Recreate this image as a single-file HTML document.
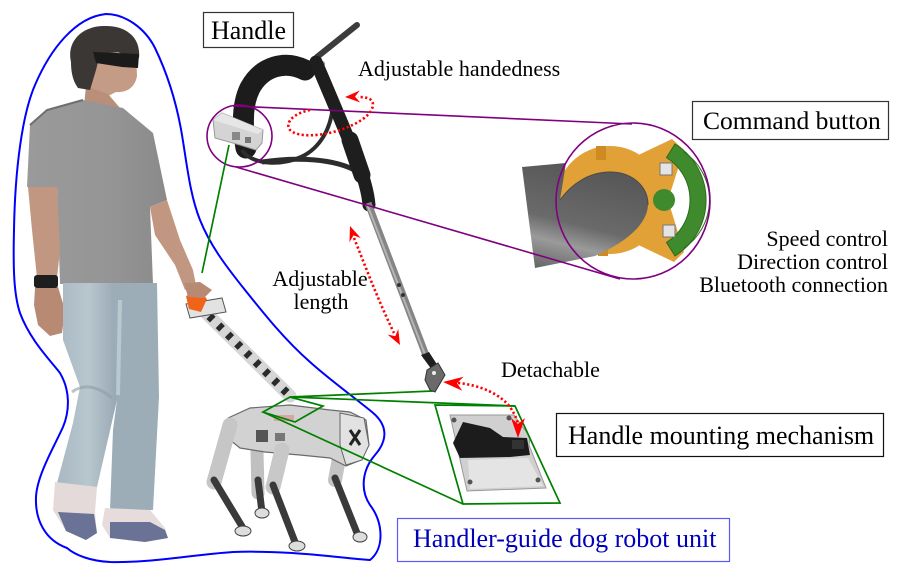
<!DOCTYPE html>
<html>
<head>
<meta charset="utf-8">
<style>
html,body{margin:0;padding:0;background:#fff;width:904px;height:573px;overflow:hidden}
svg{display:block}
text{font-family:"Liberation Serif","Times New Roman",serif;}
</style>
</head>
<body>
<svg width="904" height="573" viewBox="0 0 904 573" xmlns="http://www.w3.org/2000/svg">
<defs>
<linearGradient id="tube" x1="0" y1="1" x2="0.3" y2="0">
<stop offset="0" stop-color="#5e5e5e"/>
<stop offset="0.3" stop-color="#9a9a9a"/>
<stop offset="0.5" stop-color="#6a6a6a"/>
<stop offset="1" stop-color="#585858"/>
</linearGradient>
<linearGradient id="jeans" x1="0" y1="0" x2="1" y2="0">
<stop offset="0" stop-color="#a9b8c2"/>
<stop offset="0.5" stop-color="#b8c6ce"/>
<stop offset="1" stop-color="#95a5b1"/>
</linearGradient>
<linearGradient id="shirt" x1="0" y1="0" x2="1" y2="0">
<stop offset="0" stop-color="#9a9a9a"/>
<stop offset="0.6" stop-color="#959595"/>
<stop offset="1" stop-color="#8a8a8a"/>
</linearGradient>
</defs>
<rect width="904" height="573" fill="#fff"/>

<!-- PERSON -->
<path d="M86,52 L136,52 L137,76 C135,88 126,93 116,92 L108,96 L98,100 L86,94 Z" fill="#c49c86"/>
<polygon points="86,86 108,94 120,108 84,106" fill="#b98f79"/>
<path d="M71,62 C66,40 84,25 106,26 C127,26 141,38 139,58 L136,60 L118,52 L100,54 L96,70 L90,90 L78,88 C72,80 71,70 71,62 Z" fill="#3a3735"/>
<polygon points="93,52 139,54 138,68 122,67 96,63" fill="#1b1b1b"/>
<polygon points="83,100 123,108 153,133 167,200 150,207 153,284 60,284 57,187 27,187 30,125 47,110" fill="url(#shirt)"/>
<path d="M30,125 L47,110 L83,100" stroke="#6e6e6e" stroke-width="2" fill="none"/>
<polygon points="28,187 57,187 60,250 57,278 37,278 32,230" fill="#c29782"/>
<polygon points="35,288 58,287 65,310 62,333 50,336 38,325 34,305" fill="#b88a74"/>
<rect x="34" y="275" width="24" height="13" rx="3" fill="#1e1e1e"/>
<polygon points="150,207 167,200 180,240 193,270 196,285 185,290 175,265 155,235" fill="#c29782"/>
<polygon points="63,283 120,283 117,400 97,487 57,483 73,423 80,387 63,340" fill="url(#jeans)"/>
<polygon points="112,283 157,283 159,397 153,510 110,510 113,430 117,400" fill="#9cadb8"/>
<path d="M72,392 C85,382 100,388 112,398" stroke="#8d9ea9" stroke-width="3" fill="none" opacity="0.6"/>
<path d="M120,300 L118,395" stroke="#c8d3da" stroke-width="4" fill="none" opacity="0.7"/>
<polygon points="55,482 97,487 95,512 97,533 86,540 66,531 53,510" fill="#e4dada"/>
<polygon points="58,512 94,514 97,533 86,540 66,531" fill="#6a7296"/>
<polygon points="105,508 150,510 165,528 168,538 145,542 110,538 102,525" fill="#e6dcdc"/>
<polygon points="110,522 150,522 165,530 168,538 145,542 110,538" fill="#6a7296"/>

<!-- LEASH HANDLE -->
<path d="M198,305 L290,396" stroke="#d6d6d6" stroke-width="13" stroke-linecap="round"/>
<path d="M200,307 L288,394" stroke="#2a2a2a" stroke-width="8" stroke-dasharray="5,8"/>
<polygon points="186,304 222,298 226,312 190,318" fill="#e2e2e2" stroke="#555" stroke-width="1"/>
<polygon points="186,296 199,290 207,299 201,312 189,309" fill="#f06419"/>
<polygon points="184,283 200,282 212,290 204,298 188,297" fill="#b88a74"/>

<!-- DOG ROBOT -->
<path d="M257,452 L258,493" stroke="#c0c0c0" stroke-width="13" stroke-linecap="round"/>
<path d="M258,480 L262,512" stroke="#3a3a3a" stroke-width="7" stroke-linecap="round"/>
<ellipse cx="262" cy="513" rx="7" ry="5" fill="#ddd" stroke="#444"/>
<path d="M343,437 L335,480" stroke="#c4c4c4" stroke-width="14" stroke-linecap="round"/>
<path d="M335,478 L357,533" stroke="#3a3a3a" stroke-width="7" stroke-linecap="round"/>
<ellipse cx="360" cy="537" rx="7" ry="5" fill="#ddd" stroke="#444"/>
<polygon points="228,418 250,408 290,405 330,410 350,412 366,420 369,445 361,460 346,466 330,458 300,455 265,452 240,448 230,440" fill="#d2d2d2" stroke="#6a6a6a" stroke-width="1.2"/>
<polygon points="340,413 364,418 369,445 362,460 346,465 340,445" fill="#e2e2e2" stroke="#666" stroke-width="1"/>
<path d="M350,430 L360,445 M360,430 L350,445" stroke="#222" stroke-width="3"/>
<rect x="256" y="430" width="12" height="12" fill="#555"/>
<rect x="275" y="433" width="10" height="8" fill="#777"/>
<rect x="274" y="415" width="20" height="6" fill="#d88" opacity="0.6"/>
<path d="M230,425 L214,482" stroke="#c6c6c6" stroke-width="15" stroke-linecap="round"/>
<path d="M214,480 L243,528" stroke="#3a3a3a" stroke-width="7" stroke-linecap="round"/>
<ellipse cx="243" cy="531" rx="8" ry="5" fill="#ddd" stroke="#444"/>
<path d="M282,450 L273,487" stroke="#c8c8c8" stroke-width="15" stroke-linecap="round"/>
<path d="M273,485 L295,542" stroke="#3a3a3a" stroke-width="7" stroke-linecap="round"/>
<ellipse cx="297" cy="546" rx="8" ry="5" fill="#ddd" stroke="#444"/>

<!-- BIG HANDLE -->
<path d="M357,25 L317,57 L322,68" stroke="#3c3c3c" stroke-width="6" stroke-linecap="round" stroke-linejoin="round" fill="none"/>
<circle cx="322" cy="64" r="3" fill="#888"/>
<path d="M305,70 C285,60 262,66 250,88 C242,104 242,125 246,148" stroke="#1c1c1c" stroke-width="21" stroke-linecap="round" fill="none"/>
<path d="M242,150 C252,166 285,166 305,155 C322,145 333,125 333,100" stroke="#2c2c2c" stroke-width="4" fill="none"/>
<path d="M262,162 C295,157 335,158 358,172" stroke="#2c2c2c" stroke-width="5" fill="none"/>
<path d="M316,62 C330,95 345,130 357,160 C364,178 368,192 369,205" stroke="#1e1e1e" stroke-width="13" stroke-linecap="round" fill="none"/>
<path d="M350,140 L362,175" stroke="#1e1e1e" stroke-width="17" stroke-linecap="round"/>
<path d="M368,203 L427,358" stroke="#858585" stroke-width="7"/>
<path d="M367,204 L426,357" stroke="#b5b5b5" stroke-width="2"/>
<circle cx="399" cy="285" r="2" fill="#333"/>
<circle cx="403" cy="295" r="2" fill="#333"/>
<polygon points="421,355 429,352 438,366 432,370" fill="#1e1e1e"/>
<polygon points="427,370 438,363 445,375 435,392 430,390 425,380" fill="#6a6a6a" stroke="#333" stroke-width="1"/>
<circle cx="434" cy="373" r="2" fill="#eee"/>
<polygon points="213,120 222,113 263,130 262,143 256,150 240,145 215,138" fill="#d4d4d4" stroke="#9a9a9a" stroke-width="1"/>
<polygon points="213,120 222,113 263,130 258,134" fill="#e6e6e6"/>
<rect x="232" y="132" width="8" height="8" fill="#888"/>
<rect x="245" y="137" width="6" height="6" fill="#777"/>

<!-- COMMAND BUTTON CAD -->
<circle cx="610" cy="200" r="54" fill="#e2a136"/>
<polygon points="628,160 672,139 684,150 668,200 684,252 674,262 628,240" fill="#e2a136"/>
<rect x="596" y="146" width="10" height="14" fill="#d08a22"/>
<rect x="598" y="242" width="10" height="14" fill="#d08a22"/>
<path d="M675,144 A66,66 0 0 1 675,256 L666.5,242.4 A50,50 0 0 0 666.5,157.6 Z" fill="#3f8a2c" stroke="#2d6b1c" stroke-width="1"/>
<path d="M684,152 A58,58 0 0 1 684,248" stroke="#2d6b1c" stroke-width="1" fill="none"/>
<circle cx="664" cy="200" r="11" fill="#3f8a2c"/>
<rect x="660" y="163" width="12" height="12" fill="#e4e4e4" stroke="#777" stroke-width="1"/>
<rect x="663" y="225" width="12" height="12" fill="#e4e4e4" stroke="#777" stroke-width="1"/>
<path d="M522,167 L566,163 L560,200 C572,183 590,172 610,172 C632,172 648,186 648,205 C647,225 625,243 595,256 L535,268 Z" fill="url(#tube)"/>
<path d="M560,200 C572,183 590,172 610,172 C632,172 648,186 648,205" stroke="#4a4a4a" stroke-width="1" fill="none"/>

<!-- MOUNT MECHANISM -->
<polygon points="450,415 514,415 530,437 529,445 546,488 467,491" fill="#d0d0d0" stroke="#999" stroke-width="1"/>
<polygon points="468,460 528,458 543,486 470,489" fill="#e4e4e4"/>
<polygon points="463,422 490,428 503,437 527,438 530,455 510,457 460,458 453,443" fill="#1c1c1c"/>
<rect x="512" y="440" width="12" height="9" fill="#333"/>
<circle cx="454" cy="420" r="2.5" fill="#555"/>
<circle cx="470" cy="482" r="2.5" fill="#555"/>
<circle cx="538" cy="480" r="2.5" fill="#555"/>
<circle cx="509" cy="418" r="2.5" fill="#555"/>

<!-- BLUE OUTLINE -->
<path d="M106,14 C125,14 145,28 155,48 C168,75 177,105 182,135 C187,165 190,195 200,220 C210,245 225,265 245,290 C265,315 285,340 310,362 C330,380 355,398 372,412 C388,425 388,440 375,455 C362,470 360,490 370,505 C383,522 385,548 370,560 C340,558 290,550 233,552 C190,555 150,563 110,562 C90,561 75,555 67,548 C45,540 35,520 36,497 C37,475 55,445 63,427 C70,410 70,390 60,373 C50,360 30,340 20,313 C14,295 13,270 14,230 C15,170 22,115 35,85 C50,50 75,17 106,14 Z" fill="none" stroke="#0000ff" stroke-width="2"/>

<!-- PURPLE -->
<ellipse cx="239.5" cy="136" rx="32.5" ry="31" fill="none" stroke="#800080" stroke-width="1.6"/>
<ellipse cx="633" cy="201" rx="77" ry="78" fill="none" stroke="#800080" stroke-width="1.6"/>
<line x1="233" y1="106" x2="632" y2="124" stroke="#800080" stroke-width="1.6"/>
<line x1="236" y1="167" x2="620" y2="279" stroke="#800080" stroke-width="1.6"/>

<!-- GREEN -->
<g stroke="#008000" stroke-width="1.7" fill="none">
<line x1="229" y1="145" x2="202" y2="273"/>
<polygon points="263,412 290,397 323,406 295,422"/>
<line x1="290" y1="397" x2="433" y2="391"/>
<line x1="290" y1="397" x2="515" y2="406"/>
<line x1="263" y1="412" x2="463" y2="504"/>
<polygon points="435,405 515,406 560,503 463,504"/>
</g>

<!-- RED DOTTED ARROWS -->
<g stroke="#ff0000" stroke-width="2.6" stroke-dasharray="2.2,2.4" fill="none">
<path d="M310,110 C295,113 284,122 290,130 C298,138 322,136 340,130 C358,124 372,115 373,105 C373,99 368,97 358,97"/>
<path d="M354,238 C365,265 377,298 394,333"/>
<path d="M458,383 C480,385 500,394 510,407 C516,416 518,422 518,426"/>
</g>
<g fill="#ff0000">
<polygon points="0,0 -15,-6 -10,0 -15,6" transform="translate(345,97) rotate(178)"/>
<polygon points="0,0 -15,-6 -10,0 -15,6" transform="translate(350,226) rotate(-110)"/>
<polygon points="0,0 -15,-6 -10,0 -15,6" transform="translate(400,345) rotate(62)"/>
<polygon points="0,0 -20,-7 -14,0 -20,7" transform="translate(443,382) rotate(185)"/>
<polygon points="0,0 -20,-7 -14,0 -20,7" transform="translate(518,438) rotate(90)"/>
</g>

<!-- LABELS -->
<rect x="203.5" y="12.5" width="90" height="35" fill="#fff" stroke="#333" stroke-width="1.2"/>
<text x="248.5" y="39" font-size="26" text-anchor="middle" fill="#000">Handle</text>
<rect x="692.5" y="101.5" width="196" height="38" fill="#fff" stroke="#333" stroke-width="1.2"/>
<text x="703" y="129" font-size="25.5" fill="#000">Command button</text>
<rect x="556.5" y="413.5" width="327" height="43" fill="#fff" stroke="#111" stroke-width="1.2"/>
<text x="568" y="444" font-size="26" fill="#000">Handle mounting mechanism</text>
<rect x="397.5" y="518.5" width="332" height="43" fill="#fff" stroke="#5a5aff" stroke-width="1.2"/>
<text x="413" y="547" font-size="26" fill="#0000bb">Handler-guide dog robot unit</text>
<text x="358" y="76" font-size="22" fill="#000">Adjustable handedness</text>
<text x="320" y="286" font-size="22" text-anchor="middle" fill="#000">Adjustable</text>
<text x="321" y="309" font-size="22" text-anchor="middle" fill="#000">length</text>
<text x="501" y="377" font-size="22" fill="#000">Detachable</text>
<text x="888" y="246" font-size="22" text-anchor="end" fill="#000">Speed control</text>
<text x="888" y="269" font-size="22" text-anchor="end" fill="#000">Direction control</text>
<text x="888" y="292" font-size="22" text-anchor="end" fill="#000">Bluetooth connection</text>
</svg>
</body>
</html>
